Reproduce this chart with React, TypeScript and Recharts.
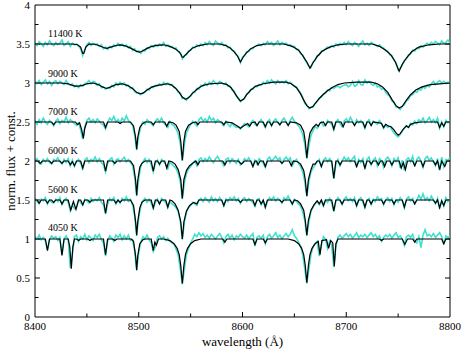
import React from 'react';
import { LineChart, Line, XAxis, YAxis, ReferenceLine } from 'recharts';

const W = 463;
const H = 351;
const SERIF = '"Liberation Serif", "Times New Roman", "DejaVu Serif", serif';
const CYAN = '#40e0d0';

const X_TICKS = [8400, 8500, 8600, 8700, 8800];
const Y_TICKS = [0, 0.5, 1, 1.5, 2, 2.5, 3, 3.5, 4];
const X_MAJOR_INNER = [8500, 8600, 8700];
const X_MINOR = [8450, 8550, 8650, 8750];
const Y_MAJOR_INNER = [0.5, 1, 1.5, 2, 2.5, 3, 3.5];
const Y_MINOR = [0.25, 0.75, 1.25, 1.75, 2.25, 2.75, 3.25, 3.75];

const TEMP_LABELS = ['11400 K', '9000 K', '7000 K', '6000 K', '5600 K', '4050 K'];

// observed spectra: sampled every 2 Å from 8400 to 8800
const obsWavelengths = Array.from({ length: 201 }, (_, i) => 8400 + 2 * i);

const obs11400 = [
  3.51, 3.48, 3.53, 3.50, 3.47, 3.52, 3.49, 3.54, 3.50, 3.48,
  3.52, 3.49, 3.51, 3.55, 3.48, 3.50, 3.53, 3.47, 3.51, 3.49,
  3.50, 3.47, 3.44, 3.35, 3.43, 3.49, 3.52, 3.48, 3.51, 3.49,
  3.50, 3.47, 3.49, 3.44, 3.46, 3.43, 3.47, 3.45, 3.49, 3.47,
  3.51, 3.48, 3.50, 3.47, 3.49, 3.45, 3.47, 3.42, 3.44, 3.40,
  3.41, 3.38, 3.42, 3.41, 3.45, 3.44, 3.48, 3.46, 3.49, 3.47,
  3.50, 3.48, 3.52, 3.47, 3.49, 3.46, 3.47, 3.44, 3.45, 3.40,
  3.39, 3.31, 3.35, 3.36, 3.41, 3.42, 3.46, 3.45, 3.49, 3.47,
  3.50, 3.48, 3.52, 3.49, 3.53, 3.50, 3.48, 3.54, 3.51, 3.49,
  3.52, 3.48, 3.49, 3.45, 3.46, 3.42, 3.41, 3.36, 3.34, 3.26,
  3.33, 3.35, 3.40, 3.40, 3.44, 3.44, 3.47, 3.48, 3.50, 3.48,
  3.51, 3.49, 3.53, 3.50, 3.52, 3.48, 3.51, 3.54, 3.49, 3.52,
  3.50, 3.51, 3.48, 3.49, 3.46, 3.47, 3.43, 3.43, 3.38, 3.36,
  3.30, 3.26, 3.22, 3.20, 3.27, 3.29, 3.35, 3.36, 3.41, 3.41,
  3.44, 3.46, 3.45, 3.48, 3.46, 3.50, 3.48, 3.51, 3.49, 3.52,
  3.49, 3.53, 3.50, 3.48, 3.52, 3.50, 3.47, 3.51, 3.54, 3.49,
  3.51, 3.48, 3.52, 3.50, 3.49, 3.47, 3.49, 3.46, 3.45, 3.42,
  3.41, 3.36, 3.35, 3.29, 3.26, 3.17, 3.19, 3.23, 3.29, 3.31,
  3.36, 3.37, 3.42, 3.41, 3.45, 3.44, 3.48, 3.46, 3.49, 3.51,
  3.49, 3.52, 3.50, 3.53, 3.51, 3.49, 3.54, 3.51, 3.52, 3.55,
  3.51,
];

const obs9000 = [
  3.02, 2.99, 3.03, 2.98, 3.01, 3.04, 2.99, 3.02, 2.97, 3.01,
  3.03, 2.99, 3.02, 3.00, 2.98, 3.03, 2.99, 2.97, 2.99, 2.95,
  2.97, 2.94, 2.98, 2.96, 2.99, 3.00, 3.03, 2.99, 3.02, 3.01,
  2.97, 2.99, 2.94, 2.95, 2.92, 2.94, 2.93, 2.97, 2.95, 3.00,
  2.97, 3.01, 2.98, 3.00, 2.96, 2.97, 2.93, 2.94, 2.89, 2.87,
  2.88, 2.85, 2.87, 2.88, 2.92, 2.91, 2.95, 2.94, 2.97, 2.96,
  2.99, 2.97, 3.01, 2.98, 3.00, 2.97, 2.98, 2.94, 2.93, 2.88,
  2.87, 2.80, 2.81, 2.78, 2.82, 2.83, 2.88, 2.88, 2.93, 2.92,
  2.97, 2.96, 3.00, 2.97, 3.01, 2.99, 3.03, 3.00, 2.98, 3.02,
  3.00, 2.98, 3.00, 2.96, 2.96, 2.91, 2.90, 2.83, 2.81, 2.76,
  2.79, 2.80, 2.86, 2.87, 2.92, 2.92, 2.96, 2.95, 2.98, 2.97,
  3.01, 2.99, 3.03, 3.00, 3.04, 3.01, 2.99, 3.03, 3.00, 3.02,
  3.00, 3.03, 2.99, 3.01, 2.98, 2.96, 2.95, 2.91, 2.87, 2.82,
  2.74, 2.72, 2.67, 2.69, 2.69, 2.74, 2.76, 2.81, 2.82, 2.86,
  2.87, 2.91, 2.90, 2.94, 2.93, 2.95, 2.96, 2.94, 2.96, 2.97,
  2.98, 2.95, 2.97, 3.02, 2.96, 2.97, 3.03, 2.98, 2.97, 3.04,
  3.00, 3.02, 2.99, 2.97, 3.00, 2.95, 2.96, 2.92, 2.93, 2.88,
  2.85, 2.83, 2.77, 2.75, 2.69, 2.69, 2.66, 2.70, 2.72, 2.77,
  2.79, 2.84, 2.85, 2.89, 2.88, 2.92, 2.91, 2.95, 2.93, 2.97,
  2.95, 2.99, 3.02, 2.98, 3.01, 3.03, 3.00, 3.02, 2.99, 3.01,
  3.00,
];

const obs7000 = [
  2.52, 2.47, 2.53, 2.49, 2.55, 2.50, 2.47, 2.52, 2.49, 2.45,
  2.51, 2.54, 2.48, 2.52, 2.50, 2.56, 2.49, 2.53, 2.51, 2.48,
  2.46, 2.49, 2.40, 2.28, 2.44, 2.52, 2.55, 2.50, 2.53, 2.49,
  2.54, 2.51, 2.48, 2.46, 2.41, 2.49, 2.55, 2.52, 2.57, 2.50,
  2.53, 2.49, 2.55, 2.51, 2.58, 2.52, 2.49, 2.46, 2.34, 2.14,
  2.33, 2.44, 2.50, 2.47, 2.53, 2.50, 2.48, 2.45, 2.51, 2.54,
  2.50, 2.55, 2.49, 2.46, 2.43, 2.51, 2.47, 2.45, 2.41, 2.35,
  2.23, 2.00, 2.22, 2.36, 2.42, 2.47, 2.51, 2.48, 2.45, 2.53,
  2.56, 2.51, 2.54, 2.50, 2.57, 2.52, 2.55, 2.49, 2.53, 2.51,
  2.48, 2.45, 2.51, 2.47, 2.44, 2.48, 2.45, 2.43, 2.44, 2.41,
  2.45, 2.48, 2.46, 2.44, 2.49, 2.52, 2.47, 2.45, 2.50, 2.53,
  2.48, 2.43, 2.50, 2.53, 2.45, 2.51, 2.54, 2.49, 2.46, 2.52,
  2.55, 2.50, 2.46, 2.52, 2.56, 2.51, 2.48, 2.45, 2.41, 2.34,
  2.22, 2.03, 2.20, 2.33, 2.39, 2.44, 2.42, 2.47, 2.50, 2.45,
  2.46, 2.52, 2.49, 2.47, 2.40, 2.50, 2.53, 2.48, 2.44, 2.51,
  2.54, 2.50, 2.56, 2.51, 2.46, 2.53, 2.49, 2.52, 2.48, 2.42,
  2.50, 2.53, 2.46, 2.51, 2.49, 2.47, 2.52, 2.48, 2.42, 2.46,
  2.43, 2.45, 2.40, 2.36, 2.33, 2.31, 2.34, 2.38, 2.42, 2.45,
  2.43, 2.48, 2.46, 2.51, 2.48, 2.53, 2.50, 2.55, 2.49, 2.52,
  2.56, 2.50, 2.53, 2.49, 2.55, 2.42, 2.50, 2.44, 2.52, 2.49,
  2.51,
];

const obs6000 = [
  2.01, 2.03, 1.97, 1.96, 2.02, 1.99, 2.03, 1.98, 1.96, 2.02,
  2.00, 2.04, 1.99, 1.96, 2.02, 1.98, 2.03, 1.94, 2.01, 1.93,
  1.99, 2.02, 1.97, 1.90, 2.01, 2.04, 1.98, 2.02, 2.00, 2.05,
  1.99, 2.03, 1.98, 1.95, 1.86, 1.97, 2.02, 2.04, 1.96, 2.01,
  2.03, 1.99, 2.02, 2.05, 1.99, 2.02, 1.98, 1.94, 1.80, 1.55,
  1.78, 1.93, 1.99, 2.03, 1.98, 2.02, 1.95, 1.86, 1.97, 2.01,
  1.95, 2.02, 1.99, 1.96, 1.90, 1.98, 1.96, 1.93, 1.90, 1.84,
  1.74, 1.51, 1.72, 1.84, 1.90, 1.93, 1.97, 2.00, 1.94, 2.02,
  2.04, 1.99, 2.03, 2.00, 2.05, 2.01, 1.98, 2.03, 2.06, 2.01,
  1.99, 1.94, 2.02, 2.04, 1.98, 2.03, 2.00, 1.97, 2.02, 1.95,
  1.98, 2.03, 2.00, 2.04, 1.99, 1.93, 2.01, 1.96, 2.03, 2.00,
  1.97, 1.92, 2.02, 2.05, 2.00, 2.03, 2.06, 2.01, 2.04, 1.97,
  2.02, 2.05, 2.01, 2.04, 1.94, 1.99, 2.02, 1.97, 1.93, 1.86,
  1.74, 1.55, 1.74, 1.86, 1.91, 1.95, 1.99, 2.02, 1.93, 2.01,
  2.04, 1.99, 2.03, 1.98, 1.77, 1.96, 2.02, 1.94, 2.00, 2.05,
  2.01, 2.04, 1.99, 2.03, 2.06, 1.92, 2.02, 1.98, 2.03, 1.90,
  2.02, 2.05, 1.95, 2.01, 2.04, 1.94, 2.03, 2.00, 1.92, 2.02,
  2.05, 2.01, 1.94, 2.03, 1.99, 2.04, 1.91, 2.01, 1.88, 2.02,
  2.04, 1.99, 2.06, 1.93, 2.02, 2.05, 2.00, 1.92, 2.03, 2.06,
  2.01, 2.04, 1.99, 1.94, 2.03, 1.88, 2.05, 1.93, 2.02, 2.01,
  2.04,
];

const obs5600 = [
  1.52, 1.48, 1.45, 1.51, 1.49, 1.53, 1.45, 1.50, 1.47, 1.46,
  1.51, 1.48, 1.53, 1.44, 1.49, 1.52, 1.47, 1.36, 1.44, 1.39,
  1.41, 1.50, 1.47, 1.43, 1.51, 1.49, 1.46, 1.52, 1.48, 1.51,
  1.49, 1.53, 1.47, 1.44, 1.32, 1.45, 1.52, 1.49, 1.53, 1.45,
  1.50, 1.46, 1.52, 1.49, 1.54, 1.48, 1.51, 1.44, 1.30, 1.04,
  1.28, 1.42, 1.49, 1.52, 1.47, 1.51, 1.46, 1.39, 1.47, 1.51,
  1.45, 1.52, 1.49, 1.47, 1.40, 1.48, 1.45, 1.43, 1.40, 1.35,
  1.24, 0.99, 1.22, 1.34, 1.40, 1.43, 1.47, 1.45, 1.43, 1.50,
  1.52, 1.48, 1.53, 1.50, 1.47, 1.54, 1.49, 1.52, 1.48, 1.53,
  1.49, 1.42, 1.51, 1.48, 1.53, 1.50, 1.54, 1.49, 1.52, 1.46,
  1.51, 1.53, 1.48, 1.52, 1.49, 1.47, 1.42, 1.50, 1.52, 1.44,
  1.49, 1.40, 1.48, 1.53, 1.50, 1.54, 1.49, 1.52, 1.50, 1.46,
  1.53, 1.50, 1.55, 1.49, 1.44, 1.51, 1.48, 1.45, 1.42, 1.35,
  1.24, 1.04, 1.22, 1.35, 1.41, 1.45, 1.48, 1.44, 1.49, 1.42,
  1.50, 1.47, 1.52, 1.46, 1.35, 1.48, 1.53, 1.49, 1.44, 1.51,
  1.54, 1.49, 1.52, 1.48, 1.53, 1.42, 1.50, 1.53, 1.47, 1.40,
  1.49, 1.52, 1.44, 1.51, 1.48, 1.54, 1.50, 1.52, 1.44, 1.50,
  1.53, 1.48, 1.52, 1.44, 1.50, 1.47, 1.53, 1.49, 1.40, 1.51,
  1.54, 1.49, 1.52, 1.45, 1.50, 1.56, 1.51, 1.58, 1.50, 1.53,
  1.49, 1.55, 1.50, 1.45, 1.52, 1.39, 1.49, 1.42, 1.53, 1.48,
  1.51,
];

const obs4050 = [
  1.03, 1.00, 1.05, 0.99, 1.02, 0.97, 0.86, 0.99, 1.04, 1.01,
  1.03, 0.98, 1.02, 0.80, 1.00, 1.04, 0.99, 0.63, 0.80, 1.03,
  1.05, 0.97, 1.03, 1.00, 1.06, 0.99, 1.04, 1.01, 0.98, 1.05,
  1.02, 1.06, 0.99, 0.95, 0.78, 0.97, 1.04, 1.01, 0.97, 1.05,
  1.02, 1.06, 0.99, 1.04, 1.00, 1.05, 0.98, 0.99, 0.85, 0.60,
  0.83, 0.96, 1.03, 1.00, 1.05, 0.99, 0.95, 0.84, 0.90, 1.02,
  1.04, 1.00, 1.03, 0.98, 1.01, 0.97, 0.95, 0.93, 0.87, 0.80,
  0.62, 0.42, 0.62, 0.80, 0.88, 0.95, 1.00, 1.06, 1.03, 1.08,
  1.04, 1.07, 1.02, 1.05, 1.01, 1.06, 1.03, 1.00, 1.04, 1.07,
  1.02, 0.95, 1.03, 1.06, 1.01, 1.05, 0.99, 1.04, 1.02, 1.06,
  1.03, 1.01, 1.05, 1.00, 1.04, 1.07, 0.91, 1.02, 1.04, 1.01,
  1.05, 0.94, 1.03, 1.06, 1.01, 1.04, 1.08, 1.02, 1.05, 1.00,
  1.04, 1.07, 1.03, 1.06, 1.12, 1.04, 1.01, 0.96, 0.91, 0.80,
  0.62, 0.43, 0.62, 0.80, 0.90, 0.94, 0.97, 0.78, 0.92, 1.03,
  1.00, 0.88, 0.97, 0.92, 0.64, 0.90, 1.02, 1.05, 1.01, 1.04,
  1.07, 1.03, 1.06, 1.01, 1.04, 1.08, 1.02, 1.05, 1.03, 1.06,
  1.02, 1.05, 1.08, 1.03, 1.06, 1.01, 1.04, 0.97, 1.02, 1.05,
  1.03, 1.06, 1.01, 1.05, 1.08, 1.02, 1.04, 1.00, 0.92, 1.03,
  1.05, 1.02, 1.06, 0.97, 0.95, 1.03, 0.89, 1.05, 1.12, 1.04,
  1.06, 1.03, 1.07, 1.02, 1.05, 1.08, 1.03, 0.93, 1.04, 1.02,
  1.04,
];

// model spectra: [wavelength, flux] points
const model11400: [number, number][] = [
  [8400, 3.5], [8436, 3.5], [8441, 3.49], [8444, 3.46], [8446, 3.38], [8447, 3.38], [8449, 3.46], [8452, 3.5],
  [8458, 3.497], [8462, 3.478], [8466, 3.455], [8469, 3.444], [8473, 3.46], [8478, 3.481], [8482, 3.488],
  [8486, 3.48], [8490, 3.46], [8494, 3.434], [8498, 3.405], [8501, 3.395], [8504, 3.413], [8508, 3.444],
  [8512, 3.467], [8517, 3.482], [8524, 3.49], [8530, 3.47], [8535, 3.44], [8539, 3.4], [8541, 3.36],
  [8542, 3.33], [8543, 3.33], [8545, 3.36], [8548, 3.4], [8552, 3.45], [8558, 3.48], [8566, 3.5], [8578, 3.5],
  [8584, 3.48], [8588, 3.45], [8592, 3.4], [8595, 3.35], [8598, 3.27], [8601, 3.34], [8604, 3.39], [8608, 3.44],
  [8614, 3.48], [8622, 3.5], [8640, 3.5], [8648, 3.47], [8654, 3.42], [8658, 3.35], [8662, 3.27], [8665, 3.19],
  [8668, 3.26], [8672, 3.34], [8677, 3.41], [8684, 3.46], [8692, 3.49], [8700, 3.5], [8725, 3.5], [8732, 3.47],
  [8738, 3.42], [8743, 3.36], [8747, 3.28], [8751, 3.15], [8754, 3.24], [8758, 3.32], [8763, 3.4], [8770, 3.46],
  [8780, 3.49], [8790, 3.5], [8800, 3.5],
];

const model9000: [number, number][] = [
  [8400, 3.0], [8425, 3.0], [8432, 2.99], [8436, 2.97], [8439, 2.96], [8442, 2.96], [8446, 2.97], [8450, 2.99],
  [8456, 3.0], [8461, 2.98], [8465, 2.95], [8469, 2.93], [8473, 2.95], [8478, 2.98], [8484, 2.99], [8489, 2.97],
  [8494, 2.93], [8498, 2.88], [8501, 2.86], [8504, 2.87], [8508, 2.91], [8513, 2.95], [8518, 2.97], [8523, 2.98],
  [8527, 2.99], [8531, 2.98], [8535, 2.94], [8539, 2.88], [8542, 2.82], [8545, 2.79], [8548, 2.81], [8552, 2.87],
  [8557, 2.93], [8562, 2.97], [8569, 2.99], [8580, 3.0], [8585, 2.98], [8589, 2.94], [8593, 2.86], [8596, 2.8],
  [8598, 2.77], [8601, 2.79], [8604, 2.85], [8608, 2.91], [8613, 2.96], [8620, 2.99], [8630, 3.01], [8642, 3.01],
  [8647, 2.99], [8652, 2.94], [8656, 2.86], [8659, 2.78], [8662, 2.71], [8665, 2.68], [8668, 2.7], [8672, 2.77],
  [8676, 2.83], [8681, 2.89], [8686, 2.94], [8692, 2.98], [8698, 3.0], [8710, 3.01], [8724, 3.01], [8730, 2.99],
  [8735, 2.95], [8740, 2.88], [8744, 2.79], [8748, 2.71], [8751, 2.68], [8754, 2.7], [8758, 2.78], [8762, 2.85],
  [8767, 2.91], [8773, 2.95], [8781, 2.98], [8790, 2.99], [8800, 3.0],
];

const model7000: [number, number][] = [
  [8400, 2.5], [8416, 2.5], [8418, 2.466], [8420, 2.5], [8439, 2.5], [8441, 2.465], [8443, 2.49], [8445, 2.4],
  [8446.6, 2.29], [8448, 2.42], [8450, 2.5], [8466, 2.5], [8468, 2.43], [8470, 2.5], [8480, 2.5], [8482, 2.48],
  [8484, 2.5], [8492, 2.5], [8495, 2.45], [8497, 2.3], [8498, 2.15], [8499, 2.3], [8501, 2.43], [8503, 2.47],
  [8506, 2.5], [8512, 2.5], [8514, 2.465], [8516, 2.5], [8525, 2.5], [8527, 2.445], [8529, 2.5], [8533, 2.49],
  [8536, 2.46], [8539, 2.38], [8540.5, 2.25], [8542, 2.01], [8543.5, 2.25], [8545, 2.38], [8548, 2.46],
  [8552, 2.49], [8555, 2.5], [8557, 2.465], [8559, 2.5], [8580, 2.5], [8582, 2.465], [8584, 2.5], [8590, 2.49],
  [8595, 2.45], [8598, 2.42], [8601, 2.45], [8605, 2.48], [8607, 2.445], [8609, 2.49], [8612, 2.5],
  [8614, 2.455], [8616, 2.5], [8620, 2.5], [8622, 2.44], [8624, 2.5], [8626, 2.5], [8628, 2.455], [8630, 2.5],
  [8634, 2.5], [8636, 2.466], [8638, 2.5], [8642, 2.5], [8644, 2.455], [8646, 2.5], [8652, 2.49], [8656, 2.46],
  [8659, 2.38], [8660.5, 2.25], [8662, 2.04], [8663.5, 2.24], [8665, 2.36], [8668, 2.43], [8671, 2.47],
  [8673, 2.445], [8675, 2.49], [8678, 2.5], [8680, 2.455], [8682, 2.5], [8686, 2.5], [8688, 2.41], [8690, 2.5],
  [8695, 2.5], [8697, 2.44], [8699, 2.5], [8706, 2.5], [8708, 2.455], [8710, 2.5], [8716, 2.5], [8718, 2.43],
  [8720, 2.5], [8722, 2.5], [8724, 2.455], [8726, 2.5], [8732, 2.49], [8734, 2.48], [8736, 2.43], [8738, 2.47],
  [8741, 2.445], [8743, 2.44], [8746, 2.4], [8748, 2.36], [8750, 2.33], [8752, 2.35], [8755, 2.41], [8758, 2.45],
  [8760, 2.43], [8762, 2.47], [8766, 2.49], [8772, 2.5], [8788, 2.5], [8790, 2.43], [8792, 2.49], [8794, 2.445],
  [8796, 2.5], [8800, 2.5],
];

const model6000: [number, number][] = [
  [8400, 2.0], [8403, 2.0], [8405, 1.97], [8407, 2.0], [8414, 2.0], [8416, 1.97], [8418, 2.0], [8424, 2.0],
  [8426, 1.97], [8428, 2.0], [8432, 2.0], [8434, 1.95], [8436, 1.99], [8438, 1.94], [8440, 2.0], [8444, 2.0],
  [8446, 1.91], [8448, 2.0], [8466, 2.0], [8468, 1.87], [8470, 2.0], [8475, 2.0], [8477, 1.97], [8479, 2.0],
  [8492, 2.0], [8495, 1.94], [8497, 1.75], [8498, 1.56], [8499, 1.75], [8501, 1.92], [8503, 1.97], [8506, 2.0],
  [8512, 2.0], [8514, 1.87], [8516, 2.0], [8518, 2.0], [8520, 1.96], [8522, 2.0], [8525, 2.0], [8527, 1.91],
  [8529, 2.0], [8532, 1.99], [8535, 1.96], [8538, 1.89], [8540.5, 1.76], [8542, 1.52], [8543.5, 1.76],
  [8546, 1.88], [8549, 1.94], [8553, 1.98], [8555, 2.0], [8557, 1.95], [8559, 2.0], [8581, 2.0], [8583, 1.95],
  [8585, 2.0], [8596, 2.0], [8599, 1.96], [8602, 2.0], [8608, 2.0], [8610, 1.93], [8612, 2.0], [8613.5, 2.0],
  [8615, 1.95], [8617, 2.0], [8620, 2.0], [8622, 1.93], [8624, 2.0], [8636, 2.0], [8638, 1.97], [8640, 2.0],
  [8645, 2.0], [8647, 1.94], [8649, 2.0], [8653, 1.99], [8656, 1.96], [8659, 1.88], [8660.5, 1.76], [8662, 1.55],
  [8663.5, 1.76], [8666, 1.89], [8668, 1.96], [8670, 1.96], [8672, 2.0], [8674, 2.0], [8676, 1.93], [8678, 2.0],
  [8686, 2.0], [8688, 1.78], [8690, 2.0], [8692, 2.0], [8694, 1.95], [8696, 2.0], [8708, 2.0], [8710, 1.93],
  [8712, 2.0], [8716, 2.0], [8718, 1.91], [8720, 2.0], [8722, 2.0], [8724, 1.96], [8726, 2.0], [8729, 2.0],
  [8731, 1.95], [8733, 2.0], [8735, 2.0], [8737, 1.93], [8739, 2.0], [8742, 2.0], [8744, 1.95], [8746, 2.0],
  [8751, 2.0], [8753, 1.91], [8755, 1.98], [8757, 1.89], [8759, 2.0], [8764, 2.0], [8766, 1.94], [8768, 2.0],
  [8772, 2.0], [8774, 1.93], [8776, 2.0], [8784, 2.0], [8786, 1.95], [8788, 2.0], [8790, 1.89], [8792, 2.0],
  [8795, 1.93], [8797, 2.0], [8800, 2.0],
];

const model5600: [number, number][] = [
  [8400, 1.5], [8402, 1.5], [8404, 1.46], [8406, 1.5], [8410, 1.5], [8412, 1.46], [8414, 1.5], [8416, 1.5],
  [8418, 1.47], [8420, 1.5], [8424, 1.5], [8426, 1.45], [8428, 1.5], [8432, 1.5], [8434.5, 1.37], [8437, 1.48],
  [8439.5, 1.38], [8442, 1.5], [8444, 1.5], [8446, 1.44], [8448, 1.5], [8451, 1.5], [8453, 1.47], [8455, 1.5],
  [8466, 1.5], [8468, 1.33], [8470, 1.5], [8476, 1.5], [8478, 1.46], [8480, 1.5], [8482, 1.47], [8484, 1.5],
  [8492, 1.5], [8495, 1.43], [8497, 1.22], [8498, 1.05], [8499, 1.22], [8501, 1.4], [8503, 1.47], [8506, 1.5],
  [8512, 1.5], [8514, 1.4], [8516, 1.5], [8518, 1.5], [8520, 1.45], [8522, 1.5], [8526, 1.5], [8528, 1.41],
  [8530, 1.5], [8532, 1.49], [8535, 1.45], [8538, 1.37], [8540.5, 1.22], [8542, 1.0], [8543.5, 1.22],
  [8546, 1.36], [8549, 1.43], [8553, 1.47], [8556, 1.45], [8558, 1.5], [8580, 1.5], [8582, 1.43], [8584, 1.5],
  [8596, 1.5], [8598, 1.47], [8600, 1.5], [8610, 1.5], [8612, 1.43], [8614, 1.5], [8616, 1.5], [8618, 1.45],
  [8620, 1.5], [8622, 1.41], [8624, 1.5], [8636, 1.5], [8638, 1.47], [8640, 1.5], [8646, 1.5], [8648, 1.45],
  [8650, 1.5], [8653, 1.49], [8656, 1.45], [8659, 1.37], [8660.5, 1.24], [8662, 1.05], [8663.5, 1.24],
  [8666, 1.37], [8669, 1.44], [8672, 1.49], [8674, 1.45], [8676, 1.5], [8678, 1.43], [8680, 1.5], [8686, 1.5],
  [8688, 1.36], [8690, 1.5], [8694, 1.5], [8696, 1.45], [8698, 1.5], [8708, 1.5], [8710, 1.43], [8712, 1.5],
  [8716, 1.5], [8718, 1.41], [8720, 1.5], [8722, 1.5], [8724, 1.45], [8726, 1.5], [8734, 1.5], [8736, 1.45],
  [8738, 1.5], [8744, 1.5], [8746, 1.45], [8748, 1.5], [8754, 1.5], [8756, 1.41], [8758, 1.5], [8764, 1.5],
  [8766, 1.45], [8768, 1.5], [8784, 1.5], [8786, 1.46], [8788, 1.5], [8790, 1.4], [8792, 1.49], [8794, 1.43],
  [8796, 1.5], [8800, 1.5],
];

const model4050: [number, number][] = [
  [8400, 1.0], [8410, 1.0], [8412, 0.85], [8414, 1.0], [8424, 1.0], [8426, 0.79], [8428, 1.0], [8432, 1.0],
  [8433.5, 0.9], [8435, 0.62], [8436.5, 0.9], [8438, 1.0], [8440, 1.0], [8442, 0.98], [8444, 1.0], [8451, 1.0],
  [8453, 0.98], [8455, 1.0], [8466, 1.0], [8468, 0.8], [8470, 1.0], [8475, 1.0], [8477, 0.98], [8479, 1.0],
  [8493, 1.0], [8495, 0.97], [8497, 0.78], [8498, 0.6], [8499, 0.78], [8501, 0.94], [8504, 0.99], [8506, 1.0],
  [8512, 1.0], [8514, 0.85], [8515.5, 0.96], [8517, 0.92], [8519, 1.0], [8524, 1.0], [8530, 0.98], [8534, 0.94],
  [8537, 0.88], [8539, 0.8], [8540.5, 0.66], [8542, 0.43], [8543.5, 0.66], [8545, 0.8], [8547, 0.88],
  [8550, 0.94], [8554, 0.98], [8560, 1.0], [8581, 1.0], [8583, 0.96], [8585, 1.0], [8610, 1.0], [8612, 0.93],
  [8614, 1.0], [8620, 1.0], [8622, 0.95], [8624, 1.0], [8644, 1.0], [8650, 0.98], [8654, 0.94], [8657, 0.88],
  [8659, 0.8], [8660.5, 0.66], [8662, 0.44], [8663.5, 0.66], [8665, 0.8], [8667, 0.88], [8670, 0.94],
  [8673, 0.97], [8674.7, 0.8], [8676.5, 0.98], [8681, 0.99], [8683, 0.88], [8685, 0.98], [8687, 0.95],
  [8688.5, 0.65], [8690, 0.94], [8692, 1.0], [8732, 1.0], [8734, 0.98], [8736, 1.0], [8754, 1.0],
  [8756.5, 0.93], [8759, 1.0], [8764, 1.0], [8766, 0.96], [8768, 1.0], [8792, 1.0], [8794, 0.94], [8796, 1.0],
  [8800, 1.0],
];

const OBSERVED = [obs11400, obs9000, obs7000, obs6000, obs5600, obs4050];
const MODELS = [model11400, model9000, model7000, model6000, model5600, model4050];

const toObs = (vals: number[]) => obsWavelengths.map((w, i) => ({ w, f: vals[i] }));
const toModel = (pts: [number, number][]) => pts.map(([w, f]) => ({ w, f }));

// tick marks (inward) in data units
const X_MAJOR_LEN = 0.064;
const X_MINOR_LEN = 0.045;
const Y_MAJOR_LEN = 4.8;
const Y_MINOR_LEN = 3.4;

// baselines (px) of the temperature labels
const LABEL_BASELINES = [37, 76.5, 115, 153.5, 193, 231];

export default function App() {
  const tickStyle = { stroke: '#000', strokeWidth: 1 };
  const xTickLines: React.ReactNode[] = [];
  X_MAJOR_INNER.forEach((x) => {
    xTickLines.push(
      <ReferenceLine key={`xb${x}`} segment={[{ x, y: 0 }, { x, y: X_MAJOR_LEN }]} ifOverflow="visible" {...tickStyle} />,
      <ReferenceLine key={`xt${x}`} segment={[{ x, y: 4 }, { x, y: 4 - X_MAJOR_LEN }]} ifOverflow="visible" {...tickStyle} />
    );
  });
  X_MINOR.forEach((x) => {
    xTickLines.push(
      <ReferenceLine key={`xmb${x}`} segment={[{ x, y: 0 }, { x, y: X_MINOR_LEN }]} ifOverflow="visible" {...tickStyle} />,
      <ReferenceLine key={`xmt${x}`} segment={[{ x, y: 4 }, { x, y: 4 - X_MINOR_LEN }]} ifOverflow="visible" {...tickStyle} />
    );
  });
  const yTickLines: React.ReactNode[] = [];
  Y_MAJOR_INNER.forEach((y) => {
    yTickLines.push(
      <ReferenceLine key={`yl${y}`} segment={[{ x: 8400, y }, { x: 8400 + Y_MAJOR_LEN, y }]} ifOverflow="visible" {...tickStyle} />,
      <ReferenceLine key={`yr${y}`} segment={[{ x: 8800, y }, { x: 8800 - Y_MAJOR_LEN, y }]} ifOverflow="visible" {...tickStyle} />
    );
  });
  Y_MINOR.forEach((y) => {
    yTickLines.push(
      <ReferenceLine key={`yml${y}`} segment={[{ x: 8400, y }, { x: 8400 + Y_MINOR_LEN, y }]} ifOverflow="visible" {...tickStyle} />,
      <ReferenceLine key={`ymr${y}`} segment={[{ x: 8800, y }, { x: 8800 - Y_MINOR_LEN, y }]} ifOverflow="visible" {...tickStyle} />
    );
  });

  return (
    <div style={{ position: 'absolute', left: 0, top: 0, width: W, height: H, background: '#fff' }}>
      <LineChart width={W} height={H} margin={{ top: 5, right: 13, bottom: 4, left: 0 }}>
        <XAxis
          dataKey="w"
          type="number"
          domain={[8400, 8800]}
          ticks={X_TICKS}
          interval={0}
          allowDataOverflow
          height={30}
          tickLine={false}
          tickSize={0}
          tickMargin={5}
          axisLine={{ stroke: '#000', strokeWidth: 1 }}
          tick={{ fontSize: 11, fill: '#000', fontFamily: SERIF }}
        />
        <YAxis
          type="number"
          domain={[0, 4]}
          ticks={Y_TICKS}
          interval={0}
          allowDataOverflow
          width={35}
          tickLine={false}
          tickSize={0}
          tickMargin={5}
          axisLine={{ stroke: '#000', strokeWidth: 1 }}
          tick={{ fontSize: 11, fill: '#000', fontFamily: SERIF }}
        />
        <ReferenceLine y={4} stroke="#000" strokeWidth={1} ifOverflow="visible" />
        <ReferenceLine x={8800} stroke="#000" strokeWidth={1} ifOverflow="visible" />
        {xTickLines}
        {yTickLines}
        {OBSERVED.map((vals, i) => (
          <Line
            key={`obs${i}`}
            data={toObs(vals)}
            dataKey="f"
            type="linear"
            stroke={CYAN}
            strokeWidth={1.6}
            dot={false}
            activeDot={false}
            isAnimationActive={false}
          />
        ))}
        {MODELS.map((pts, i) => (
          <Line
            key={`mod${i}`}
            data={toModel(pts)}
            dataKey="f"
            type="linear"
            stroke="#000"
            strokeWidth={1.2}
            dot={false}
            activeDot={false}
            isAnimationActive={false}
          />
        ))}
      </LineChart>
      <svg
        width={W}
        height={H}
        style={{ position: 'absolute', left: 0, top: 0, pointerEvents: 'none' }}
      >
        {TEMP_LABELS.map((t, i) => (
          <text key={t} x={48} y={LABEL_BASELINES[i]} fontSize={10} fontFamily={SERIF} fill="#000">
            {t}
          </text>
        ))}
        <text x={242.5} y={346} fontSize={13} fontFamily={SERIF} fill="#000" textAnchor="middle">
          wavelength (Å)
        </text>
        <text
          transform="translate(15,161) rotate(-90)"
          fontSize={13}
          fontFamily={SERIF}
          fill="#000"
          textAnchor="middle"
        >
          norm. flux + const.
        </text>
      </svg>
    </div>
  );
}
